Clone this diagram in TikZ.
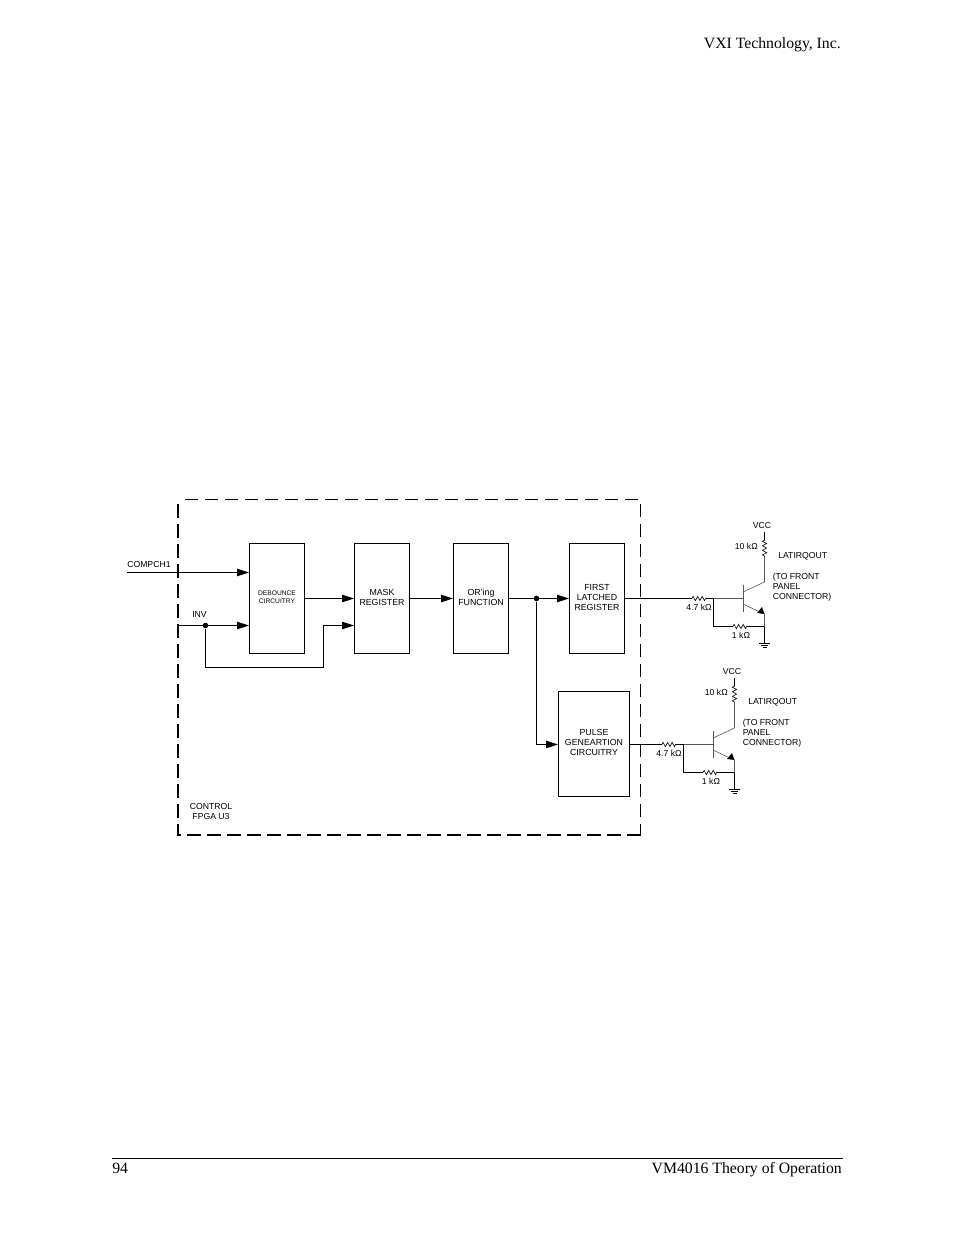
\documentclass[tikz,border=0pt]{standalone}
\usepackage{fontspec}
\setmainfont{Liberation Serif}
\setsansfont{Liberation Sans}
\usepackage{tikz}
\usetikzlibrary{arrows.meta,decorations.pathmorphing}
\tikzset{
	block/.style={draw,line width=0.75pt,inner sep=0pt,align=center,text depth=2pt,font=\sffamily\fontsize{6.6}{7.6}\selectfont},
	lab/.style={inner sep=0pt,align=left,font=\sffamily\fontsize{6.5}{7.5}\selectfont},
	wire/.style={line width=0.75pt},
	thinwire/.style={line width=0.45pt,black!65},
	arrow/.style={wire,-{Triangle[length=9pt,width=5.6pt]}},
	res/.style={line width=0.45pt,decorate,decoration={zigzag,segment length=3.4pt,amplitude=1.6pt}},
	dot/.style={circle,fill=black,inner sep=0pt,minimum size=4.2pt},
	page/.style={inner sep=0pt,font=\rmfamily\fontsize{11.8}{13}\selectfont}
}
\begin{document}
\begin{tikzpicture}[x=0.75pt,y=-0.75pt]
	\useasboundingbox (0,0) rectangle (954,1235);
	% header and footer
	\node[page,anchor=base east] (head) at (841,48) {VXI Technology, Inc.};
	\coordinate (ruleL) at (112,1158.5);
	\coordinate (ruleR) at (843,1158.5);
	\draw[line width=0.75pt] (ruleL) -- (ruleR);
	\node[page,anchor=base west] (pagenum) at (112,1173.5) {94};
	\node[page,anchor=base east] (foot) at (842,1173.5) {VM4016 Theory of Operation};
	% dashed border
	\coordinate (fpgaTL) at (178,499.5);
	\coordinate (fpgaTR) at (640.5,499.5);
	\coordinate (fpgaBR) at (640.5,835);
	\coordinate (fpgaBL) at (178,835);
	\draw[line width=1.5pt,dash pattern=on 10pt off 5pt] (fpgaBR) -- (fpgaBL) -- (fpgaTL);
	\draw[line width=0.75pt,dash pattern=on 10pt off 5pt] (fpgaTL) ++(7,0) -- (fpgaTR) -- (fpgaBR);
	% blocks
	\node[block,minimum width=41.25pt,minimum height=82.5pt,font=\sffamily\fontsize{5}{6.3}\selectfont] (debounce) at (277,598.5) {DEBOUNCE\\CIRCUITRY};
	\node[block,minimum width=41.25pt,minimum height=82.5pt] (mask) at (382,598.5) {MASK\\REGISTER};
	\node[block,minimum width=41.25pt,minimum height=82.5pt] (oring) at (481,598.5) {OR'ing\\FUNCTION};
	\node[block,minimum width=41.25pt,minimum height=82.5pt] (first) at (597,598.5) {FIRST\\LATCHED\\REGISTER};
	\node[block,minimum width=53.25pt,minimum height=78.75pt] (pulse) at (594,744) {PULSE\\GENEARTION\\CIRCUITRY};
	% labels
	\node[lab,anchor=west] (compch) at (127,565) {COMPCH1};
	\node[lab,anchor=west] (inv) at (192,615) {INV};
	\node[lab,anchor=north,align=center] (control) at (211,803) {CONTROL\\FPGA U3};
	% inputs
	\coordinate (compIn) at (127,572.5);
	\coordinate (invIn) at (178,625.5);
	\node[dot] (invDot) at (205.5,625.5) {};
	\coordinate (invLow) at (205.5,667.5);
	\coordinate (invUp) at (323.5,667.5);
	\coordinate (invTop) at (323.5,625.5);
	\draw[arrow] (compIn) -- (debounce.west |- compIn);
	\draw[arrow] (invIn) -- (debounce.west |- invIn);
	\draw[arrow] (invDot) -- (invLow) -- (invUp) -- (invTop) -- (mask.west |- invTop);
	% chain
	\draw[arrow] (debounce.east) -- (mask.west);
	\draw[arrow] (mask.east) -- (oring.west);
	\draw[arrow] (oring.east) -- (first.west);
	\node[dot] (orDot) at (536.5,598.5) {};
	\coordinate (orLow) at (536.5,744.5);
	\draw[arrow] (orDot) -- (orLow) -- (pulse.west |- orLow);
	% output stages
	\foreach \stage/\src/\dx/\dy in {a/first/0/0,b/pulse/-30/146}{
		\begin{scope}[shift={(\dx,\dy)},name prefix=\stage]
			\coordinate (rbL) at (692,598.5);
			\coordinate (rbR) at (707,598.5);
			\coordinate (junc) at (713.5,598.5);
			\coordinate (base) at (743,598.5);
			\coordinate (barT) at (743,585);
			\coordinate (barB) at (743,612);
			\coordinate (colA) at (743,592);
			\coordinate (colB) at (764.5,582);
			\coordinate (emiA) at (743,604);
			\coordinate (emiB) at (759,611.6);
			\coordinate (emiC) at (764.5,614);
			\coordinate (rcB) at (764.5,556);
			\coordinate (rcT) at (764.5,540);
			\coordinate (vcc) at (764.5,532);
			\coordinate (juncLow) at (713.5,626.5);
			\coordinate (reL) at (733,626.5);
			\coordinate (reR) at (748,626.5);
			\coordinate (emiLow) at (764.5,626.5);
			\coordinate (gnd) at (764.5,643.5);
			\coordinate (gndL) at (759,643.5);
			\coordinate (gndR) at (770,643.5);
			\coordinate (gndL2) at (761,645.5);
			\coordinate (gndR2) at (768,645.5);
			\coordinate (gndL3) at (762.5,647.5);
			\coordinate (gndR3) at (766.5,647.5);
			% base side
			\draw[res] (rbL) -- (rbR);
			\draw[wire] (rbR) -- (junc) -- (juncLow) -- (reL);
			\draw[thinwire] (junc) -- (base);
			\draw[thinwire,line width=0.7pt] (barT) -- (barB);
			% transistor
			\draw[thinwire] (colA) -- (colB);
			\draw[thinwire] (emiA) -- (emiB);
			\fill (emiC) -- (757,613) -- (762,607) -- cycle;
			\draw[thinwire] (colB) -- (rcB);
			\draw[res] (rcB) -- (rcT);
			\draw[wire] (rcT) -- (vcc);
			% emitter and ground
			\draw[res] (reL) -- (reR);
			\draw[wire] (reR) -- (emiLow);
			\draw[thinwire] (emiC) -- (emiLow);
			\draw[wire] (emiLow) -- (gnd);
			\draw[line width=0.6pt] (gndL) -- (gndR);
			\draw[line width=0.6pt] (gndL2) -- (gndR2);
			\draw[line width=0.6pt] (gndL3) -- (gndR3);
			% labels
			\node[lab,anchor=center] (vccText) at (762,526) {VCC};
			\node[lab,anchor=east] (rcText) at (758,546) {10 kΩ};
			\node[lab,anchor=west] (latText) at (778,556) {LATIRQOUT};
			\node[lab,anchor=north west] (panel) at (772.5,572.5) {(TO FRONT\\PANEL\\CONNECTOR)};
			\node[lab,anchor=center] (rbText) at (699,607) {4.7 kΩ};
			\node[lab,anchor=center] (reText) at (741,635) {1 kΩ};
		\end{scope}
		\draw[wire] (\src.east |- \stage rbL) -- (\stage rbL);
	}
\end{tikzpicture}
\end{document}
